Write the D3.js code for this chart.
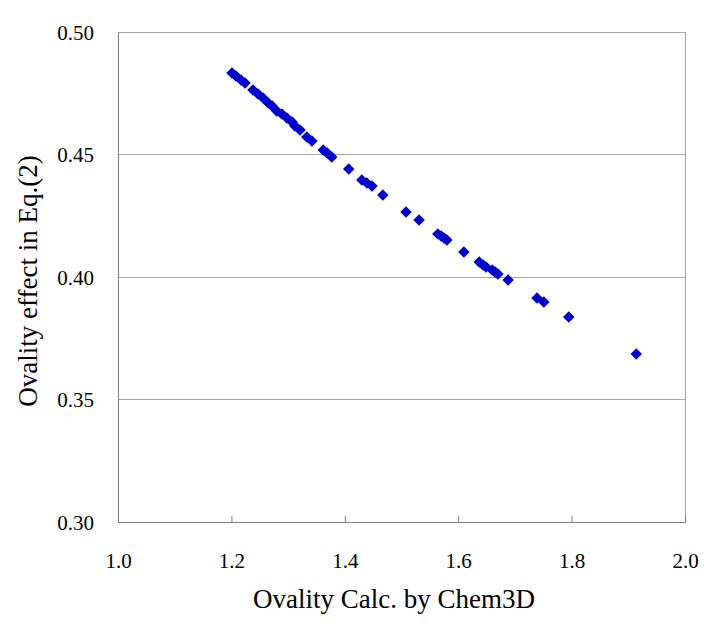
<!DOCTYPE html>
<html><head><meta charset="utf-8">
<script src="https://cdn.jsdelivr.net/npm/d3@7"></script>
<style>html,body{margin:0;padding:0;background:#fff;}</style>
</head><body>
<svg id="c" width="714" height="626"></svg>
<script>
const ovalityX = [1.201,1.208,1.217,1.224,1.238,1.247,1.256,1.265,1.272,1.280,1.289,1.298,1.307,1.312,1.321,1.333,1.342,1.362,1.369,1.377,1.407,1.430,1.439,1.448,1.467,1.508,1.531,1.564,1.570,1.575,1.580,1.610,1.637,1.644,1.649,1.660,1.665,1.670,1.688,1.739,1.751,1.795,1.914];
const effectY = [0.4833,0.4820,0.4804,0.4792,0.4763,0.4747,0.4731,0.4710,0.4698,0.4678,0.4665,0.4649,0.4633,0.4616,0.4600,0.4571,0.4555,0.4518,0.4506,0.4490,0.4441,0.4396,0.4384,0.4371,0.4335,0.4265,0.4233,0.4176,0.4167,0.4159,0.4151,0.4102,0.4061,0.4049,0.4041,0.4029,0.4020,0.4012,0.3988,0.3914,0.3898,0.3837,0.3686];
const xTicks = [1.0,1.2,1.4,1.6,1.8,2.0];
const yTicks = [0.30,0.35,0.40,0.45,0.50];
const xTitle = "Ovality Calc. by Chem3D";
const yTitle = "Ovality effect in Eq.(2)";

const L=118,R=685,T=32,B=522;
const svg=d3.select("#c");
const x=d3.scaleLinear().domain([1,2]).range([L,R]);
const y=d3.scaleLinear().domain([0.3,0.5]).range([B,T]);
const font="'Liberation Serif','Times New Roman',serif";

// gridlines
svg.append("g").selectAll("line").data(yTicks.filter(v=>v>0.3)).join("line")
  .attr("x1",L).attr("x2",R).attr("y1",d=>y(d)).attr("y2",d=>y(d))
  .attr("stroke","#a6a6a6").attr("stroke-width",1).attr("shape-rendering","crispEdges");
// frame
svg.append("rect").attr("x",L).attr("y",T).attr("width",R-L).attr("height",B-T)
  .attr("fill","none").attr("stroke","#a6a6a6").attr("shape-rendering","crispEdges");
// axes
const xAxis=d3.axisBottom(x).tickValues(xTicks).tickSize(-6).tickSizeOuter(0).tickFormat(d3.format(".1f"));
const gx=svg.append("g").attr("transform",`translate(0,${B})`).call(xAxis);
gx.select(".domain").attr("stroke","#808080");
gx.selectAll(".tick line").attr("stroke","#808080");
gx.selectAll("text").attr("font-family",font).attr("font-size",21).attr("fill","#000").attr("y",46).attr("dy",0);
const yAxis=d3.axisLeft(y).tickValues(yTicks).tickSize(0).tickSizeOuter(0).tickPadding(24).tickFormat(d3.format(".2f"));
const gy=svg.append("g").attr("transform",`translate(${L},0)`).call(yAxis);
gy.select(".domain").attr("stroke","#808080");
gy.selectAll("text").attr("font-family",font).attr("font-size",21).attr("fill","#000").attr("dy","0.34em");

// points
const sym=d3.symbol().type(d3.symbolSquare).size(66);
svg.append("g").selectAll("path").data(ovalityX.map((v,i)=>[v,effectY[i]])).join("path")
  .attr("d",sym).attr("transform",d=>`translate(${x(d[0])},${y(d[1])}) rotate(45)`)
  .attr("fill","#0000cc");

// titles
svg.append("text").attr("x",394).attr("y",608).attr("text-anchor","middle")
  .attr("font-family",font).attr("font-size",27).text(xTitle);
svg.append("text").attr("transform",`translate(37,281) rotate(-90)`).attr("text-anchor","middle")
  .attr("font-family",font).attr("font-size",27).text(yTitle);
</script>
</body></html>
